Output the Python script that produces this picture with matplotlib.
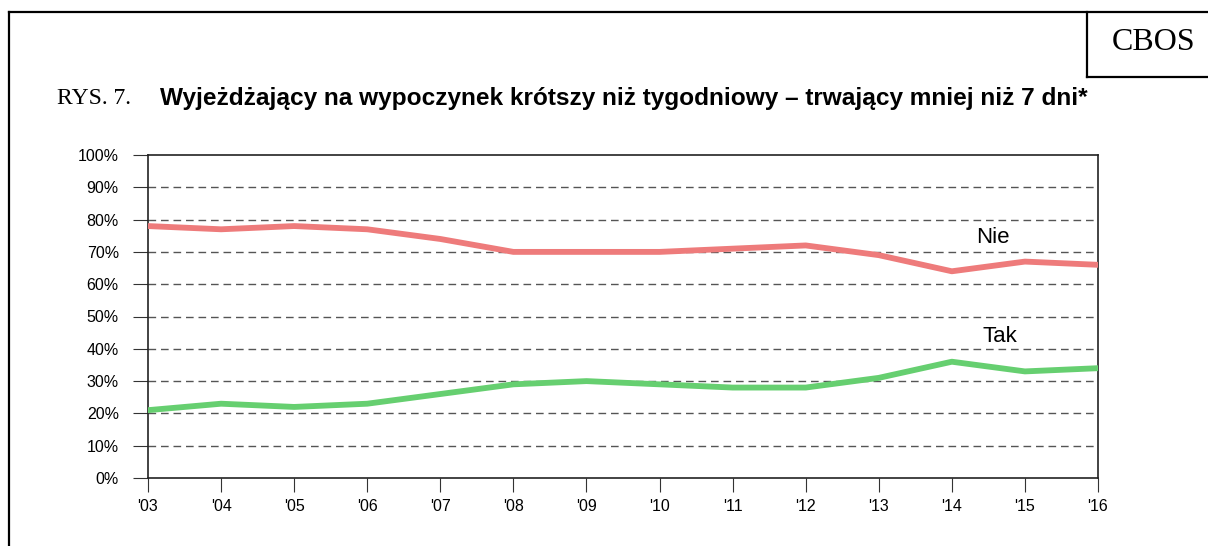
import numpy as np
import matplotlib.pyplot as plt
from matplotlib.lines import Line2D

years = ["'03", "'04", "'05", "'06", "'07", "'08", "'09", "'10", "'11", "'12", "'13", "'14", "'15", "'16"]
nie = [78, 77, 78, 77, 74, 70, 70, 70, 71, 72, 69, 64, 67, 66]
tak = [21, 23, 22, 23, 26, 29, 30, 29, 28, 28, 31, 36, 33, 34]
yticks = list(range(0, 101, 10))

W, H = 1208, 546
fig = plt.figure(figsize=(W / 100, H / 100), dpi=100)
plt.rcParams['font.family'] = ['Liberation Sans', 'DejaVu Sans']

def fx(px):
    return px / W

def fy(py):
    return 1 - py / H

# outer frame and CBOS box
frame = dict(color='black', lw=1.6, transform=fig.transFigure)
fig.add_artist(Line2D([fx(9), fx(9)], [fy(12), 0], **frame))
fig.add_artist(Line2D([fx(9), 1], [fy(12), fy(12)], **frame))
fig.add_artist(Line2D([fx(1087), fx(1087)], [fy(12), fy(77)], **frame))
fig.add_artist(Line2D([fx(1087), 1], [fy(77), fy(77)], **frame))
fig.text(fx(1154), fy(43), 'CBOS', family='Liberation Serif', fontsize=23,
         ha='center', va='center')

# title
fig.text(fx(57), fy(98), 'RYS. 7.', family='Liberation Serif', fontsize=17,
         ha='left', va='center')
fig.text(fx(160), fy(98),
         'Wyjeżdżający na wypoczynek krótszy niż tygodniowy – trwający mniej niż 7 dni*',
         fontsize=17.6, fontweight='bold', ha='left', va='center')

ax = fig.add_axes([fx(148), fy(478), fx(1098) - fx(148), (478 - 155) / H])
x = np.arange(len(years))
ax.plot(x, nie, color='#EE7B7B', lw=4.2, solid_capstyle='round', zorder=3)
ax.plot(x, tak, color='#66CF70', lw=4.2, solid_capstyle='round', zorder=3)

ax.set_xlim(0, len(years) - 1)
ax.set_ylim(0, 100)
ax.set_yticks(yticks)
ax.set_yticklabels([f'{v}%' for v in yticks], fontsize=11.5)
ax.set_xticks(x)
ax.set_xticklabels(years, fontsize=11.5)
ax.tick_params(axis='y', length=11, width=0.8, pad=10, color='#333333')
ax.tick_params(axis='x', length=10, width=0.8, pad=5, color='#333333')

for v in yticks[1:-1]:
    ax.axhline(v, color='#555555', lw=1.0, ls=(0, (5.5, 3.5)), zorder=1)

for s in ['left', 'right', 'bottom', 'top']:
    ax.spines[s].set_linewidth(1.2)
    ax.spines[s].set_color('#222222')

ax.text(11.56, 74.6, 'Nie', fontsize=16, ha='center', va='center')
ax.text(11.66, 43.7, 'Tak', fontsize=16, ha='center', va='center')

fig.savefig('out.png', dpi=100)
